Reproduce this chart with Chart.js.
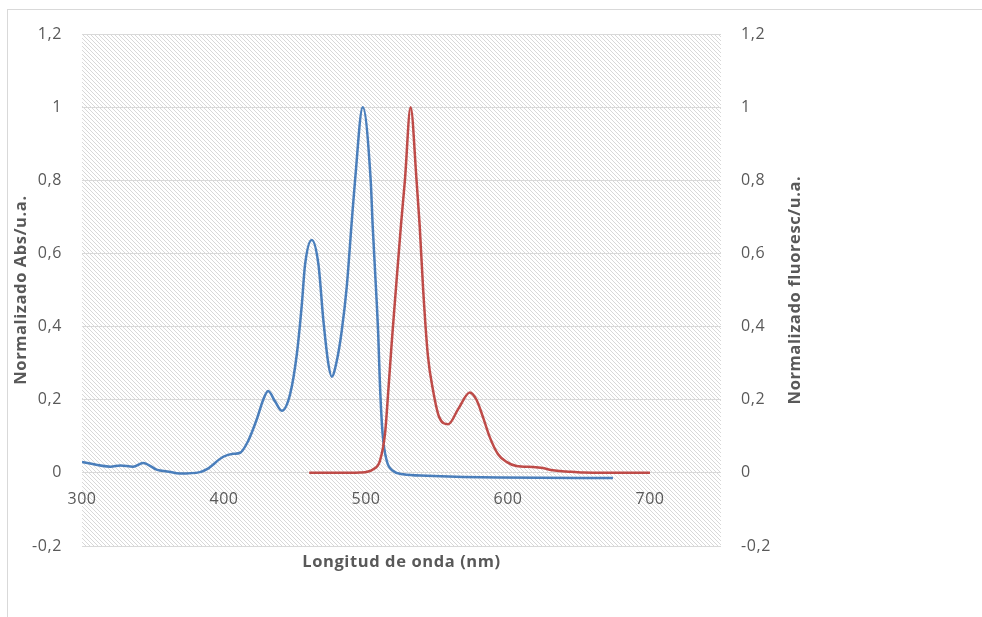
<!DOCTYPE html>
<html>
<head>
<meta charset="utf-8">
<script src="https://cdn.jsdelivr.net/npm/chart.js@4.4.1/dist/chart.umd.min.js"></script>
<style>
html,body{margin:0;padding:0;background:#fff;overflow:hidden;}
#wrap{position:relative;width:982px;height:617px;overflow:hidden;}
#frame{position:absolute;left:7px;top:9px;width:1200px;height:900px;border-top:1px solid #d9d9d9;border-left:1px solid #d9d9d9;pointer-events:none;}
canvas{position:absolute;left:0;top:0;}
</style>
</head>
<body>
<div id="wrap"><canvas id="c" width="982" height="617"></canvas><div id="frame"></div></div>
<script>
// Absorption (blue, left axis)
const absWavelength = [300, 320, 327, 336, 343, 353, 360, 369, 383, 388,
  399.5, 406.5, 411.4, 417, 423.4, 427.6, 431.1, 436, 440.7, 446.6,
  451.3, 454.8, 457.1, 461.8, 466.5, 470, 473.5, 475.9, 479.4, 482.9,
  486.4, 490, 492.3, 497.7, 503.3, 504.7, 507.5, 508.6, 509.8, 511.7,
  514.6, 519.2, 526.2, 542.7, 594.2, 673.9];
const absValues = [0.030, 0.017, 0.020, 0.017, 0.027, 0.008, 0.004, -0.002, 0.002, 0.010,
  0.044, 0.052, 0.055, 0.087, 0.150, 0.200, 0.224, 0.195, 0.170, 0.216,
  0.325, 0.460, 0.570, 0.637, 0.570, 0.416, 0.298, 0.263, 0.306, 0.388,
  0.507, 0.689, 0.800, 1.000, 0.800, 0.676, 0.470, 0.380, 0.243, 0.107,
  0.033, 0.005, -0.004, -0.008, -0.013, -0.014];

// Fluorescence (red, right axis)
const fluorWavelength = [460, 480, 495.8, 505.1, 509.8, 513.4, 515.9, 518.1, 520.4, 524.6,
  527.4, 531.4, 535.6, 537.8, 540.3, 543.6, 547.3, 551.5, 557.9, 565.0,
  573.1, 577.8, 582.5, 587.2, 593.0, 598.9, 605.9, 617.6, 624.6, 631.7,
  641.1, 652.8, 700];
const fluorValues = [0, 0, 0.001, 0.010, 0.033, 0.107, 0.235, 0.355, 0.470, 0.676,
  0.800, 1.000, 0.800, 0.676, 0.498, 0.320, 0.224, 0.153, 0.133, 0.175,
  0.220, 0.200, 0.151, 0.097, 0.051, 0.030, 0.019, 0.016, 0.013, 0.007,
  0.004, 0.001, 0];

const xAxisTitle = 'Longitud de onda (nm)';
const yLeftTitle = 'Normalizado Abs/u.a.';
const yRightTitle = 'Normalizado fluoresc/u.a.';
const xRange = [300, 750];
const yRange = [-0.2, 1.2];

const FONT = "'Open Sans', 'Liberation Sans', sans-serif";
const TXT = '#595959';
const TICK_SIZE = 16;
const TITLE_SIZE = 16.5;
const SPACING = '0.6px';

function fmt(v) { return String(Math.round(v * 10) / 10).replace('.', ','); }

// hatch pattern
const tile = document.createElement('canvas');
tile.width = 8; tile.height = 8;
(function () {
  const t = tile.getContext('2d');
  t.fillStyle = '#ffffff'; t.fillRect(0, 0, 8, 8);
  t.strokeStyle = '#d8d8d8'; t.lineWidth = 1;
  for (let x0 = -12; x0 <= 12; x0 += 4) {
    t.beginPath(); t.moveTo(x0, 0); t.lineTo(x0 + 8, 8); t.stroke();
  }
})();

const spacingPlugin = {
  id: 'spacing',
  beforeUpdate(chart) { chart.ctx.letterSpacing = SPACING; },
  beforeDraw(chart) { chart.ctx.letterSpacing = SPACING; }
};
const hatchPlugin = {
  id: 'hatch',
  beforeDraw(chart) {
    const {ctx, chartArea: a} = chart;
    ctx.save();
    ctx.fillStyle = ctx.createPattern(tile, 'repeat');
    ctx.fillRect(a.left, a.top, a.right - a.left, a.bottom - a.top);
    ctx.restore();
  }
};
const rightTitlePlugin = {
  id: 'rightTitle',
  afterDraw(chart) {
    const {ctx, chartArea: a} = chart;
    ctx.save();
    ctx.translate(795, (a.top + a.bottom) / 2);
    ctx.rotate(-Math.PI / 2);
    ctx.font = 'bold ' + TITLE_SIZE + 'px ' + FONT;
    ctx.fillStyle = TXT;
    ctx.textAlign = 'center';
    ctx.textBaseline = 'middle';
    ctx.fillText(yRightTitle, 0, 0);
    ctx.restore();
  }
};

new Chart(document.getElementById('c'), {
  type: 'line',
  data: {
    datasets: [
      {
        label: 'Abs',
        data: absWavelength.map((x, i) => ({x, y: absValues[i]})),
        borderColor: '#4A7EBB', borderWidth: 2.5, pointRadius: 0,
        cubicInterpolationMode: 'monotone', xAxisID: 'x', yAxisID: 'y', order: 2
      },
      {
        label: 'Fluor',
        data: fluorWavelength.map((x, i) => ({x, y: fluorValues[i]})),
        borderColor: '#BE4B48', borderWidth: 2.5, pointRadius: 0,
        cubicInterpolationMode: 'monotone', xAxisID: 'x', yAxisID: 'y1', order: 1
      }
    ]
  },
  options: {
    responsive: false, animation: false, devicePixelRatio: 1,
    layout: {padding: {top: 34, left: 0, right: 0, bottom: 0}},
    plugins: {legend: {display: false}, tooltip: {enabled: false}},
    scales: {
      x: {
        type: 'linear', position: {y: 0}, min: xRange[0], max: xRange[1],
        grid: {display: false, drawTicks: false}, border: {display: false},
        ticks: {stepSize: 100, includeBounds: false, padding: 17, color: TXT,
          font: {family: FONT, size: TICK_SIZE}, maxRotation: 0}
      },
      xt: {
        type: 'linear', position: 'bottom', axis: 'x',
        grid: {display: false, drawTicks: false}, border: {display: false},
        ticks: {display: false},
        title: {display: true, text: xAxisTitle, color: TXT,
          font: {family: FONT, size: TITLE_SIZE, weight: 'bold'}, padding: {top: 0, bottom: 45}},
        afterFit(s) { s.height = 71; }
      },
      y: {
        type: 'linear', position: 'left', min: yRange[0], max: yRange[1],
        grid: {color: '#d9d9d9', lineWidth: 1, drawTicks: false}, border: {display: false},
        ticks: {stepSize: 0.2, padding: 20, color: TXT, font: {family: FONT, size: TICK_SIZE}, callback: fmt},
        title: {display: true, text: yLeftTitle, color: TXT,
          font: {family: FONT, size: TITLE_SIZE, weight: 'bold'}, padding: {top: 11, bottom: 0}},
        afterFit(s) { s.width = 82; }
      },
      y1: {
        type: 'linear', position: 'right', min: yRange[0], max: yRange[1],
        grid: {display: false, drawTicks: false}, border: {display: false},
        ticks: {stepSize: 0.2, padding: 20, color: TXT, font: {family: FONT, size: TICK_SIZE}, callback: fmt},
        afterFit(s) { s.width = 261; }
      }
    }
  },
  plugins: [spacingPlugin, hatchPlugin, rightTitlePlugin]
});
</script>
</body>
</html>
